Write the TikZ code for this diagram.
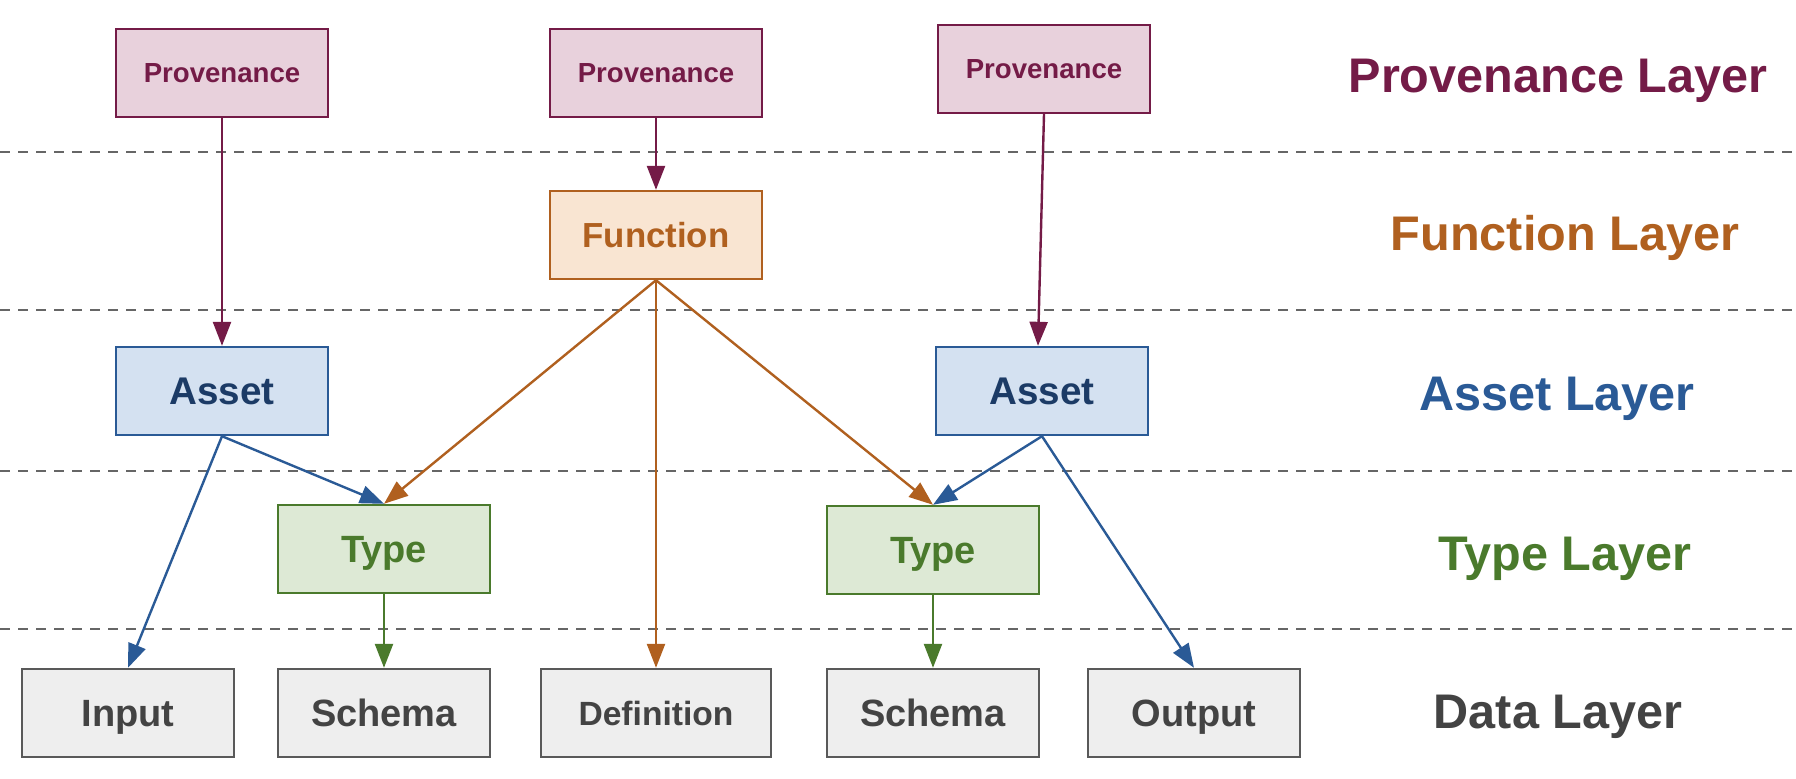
\documentclass[tikz,border=0pt]{standalone}
\usepackage{fontspec}
\setmainfont{Liberation Sans}
\usetikzlibrary{arrows.meta}

\definecolor{provdark}{HTML}{741B47}
\definecolor{provlight}{HTML}{E8D1DC}
\definecolor{funcdark}{HTML}{B0601F}
\definecolor{funclight}{HTML}{F9E5D2}
\definecolor{assetdark}{HTML}{2A5A96}
\definecolor{assettext}{HTML}{1C3B66}
\definecolor{assetlight}{HTML}{D4E1F1}
\definecolor{typedark}{HTML}{4A7A2C}
\definecolor{typelight}{HTML}{DDE9D5}
\definecolor{datadark}{HTML}{595959}
\definecolor{datatext}{HTML}{434343}
\definecolor{datalight}{HTML}{EEEEEE}
\definecolor{sepgray}{HTML}{666666}

\tikzset{
  box/.style={rectangle, line width=1.2pt, minimum width=106pt, minimum height=44pt, inner sep=0pt},
  provbox/.style={box, draw=provdark, fill=provlight, text=provdark,
    font=\bfseries\fontsize{13.8}{16}\selectfont, text height=9.9pt, text depth=0pt},
  funcbox/.style={box, draw=funcdark, fill=funclight, text=funcdark,
    font=\bfseries\fontsize{17.4}{20}\selectfont, text height=12.5pt, text depth=0pt},
  assetbox/.style={box, draw=assetdark, fill=assetlight, text=assettext,
    font=\bfseries\fontsize{19.3}{22}\selectfont, text height=13.8pt, text depth=0pt},
  typebox/.style={box, draw=typedark, fill=typelight, text=typedark,
    font=\bfseries\fontsize{19}{22}\selectfont, text height=13.6pt, text depth=0pt},
  databox/.style={box, draw=datadark, fill=datalight, text=datatext,
    font=\bfseries\fontsize{19}{22}\selectfont, text height=13.6pt, text depth=0pt},
  layerlabel/.style={anchor=base, font=\bfseries\fontsize{24.3}{28}\selectfont},
  sepline/.style={draw=sepgray, line width=1.3pt, dash pattern=on 5pt off 4pt}
}

\begin{document}
\begin{tikzpicture}[x=0.5pt, y=-0.5pt]
\useasboundingbox (0,0) rectangle (1796,778);

\foreach \y in {152,310,471,629}
    \path [sepline] (0,\y) -- (1796,\y);

\node[provbox] (prov1) at (222,73) {Provenance};
\node[provbox] (prov2) at (656,73) {Provenance};
\node[provbox] (prov3) at (1044,69) {Provenance};
\node[funcbox] (func) at (656,235) {Function};
\node[assetbox] (asset1) at (222,391) {Asset};
\node[assetbox] (asset2) at (1042,391) {Asset};
\node[typebox] (type1) at (384,549) {Type};
\node[typebox] (type2) at (933,550) {Type};
\node[databox] (input) at (128,713) {Input};
\node[databox] (schema1) at (384,713) {Schema};
\node[databox, minimum width=115pt, font=\bfseries\fontsize{16.8}{19}\selectfont,
      text height=12pt] (defn) at (656,713) {Definition};
\node[databox] (schema2) at (933,713) {Schema};
\node[databox] (output) at (1194,713) {Output};

\node[layerlabel, text=provdark] (provlayer) at (1558,92) {Provenance Layer};
\node[layerlabel, text=funcdark] (funclayer) at (1565,250) {Function Layer};
\node[layerlabel, text=assetdark] (assetlayer) at (1557,410) {Asset Layer};
\node[layerlabel, text=typedark] (typelayer) at (1565,570) {Type Layer};
\node[layerlabel, text=datatext] (datalayer) at (1558,728) {Data Layer};

\begin{scope}[>={Triangle[length=12pt,width=9pt]},
              every edge/.style={draw=provdark, line width=1.2pt}]
    \path [->] (prov1.south) edge (asset1.north);
    \path [->] (prov2.south) edge (func.north);
    \path [->] (prov3.south) edge ([xshift=-2pt]asset2.north);
\end{scope}

\begin{scope}[>={Triangle[length=12pt,width=9pt]},
              every edge/.style={draw=funcdark, line width=1.2pt}]
    \path [->] (func.south) edge (type1.north);
    \path [->] (func.south) edge (defn.north);
    \path [->] (func.south) edge (type2.north);
\end{scope}

\begin{scope}[>={Triangle[length=12pt,width=9pt]},
              every edge/.style={draw=assetdark, line width=1.2pt}]
    \path [->] (asset1.south) edge (input.north);
    \path [->] (asset1.south) edge (type1.north);
    \path [->] (asset2.south) edge (type2.north);
    \path [->] (asset2.south) edge (output.north);
\end{scope}

\begin{scope}[>={Triangle[length=12pt,width=9pt]},
              every edge/.style={draw=typedark, line width=1.2pt}]
    \path [->] (type1.south) edge (schema1.north);
    \path [->] (type2.south) edge (schema2.north);
\end{scope}
\end{tikzpicture}
\end{document}
